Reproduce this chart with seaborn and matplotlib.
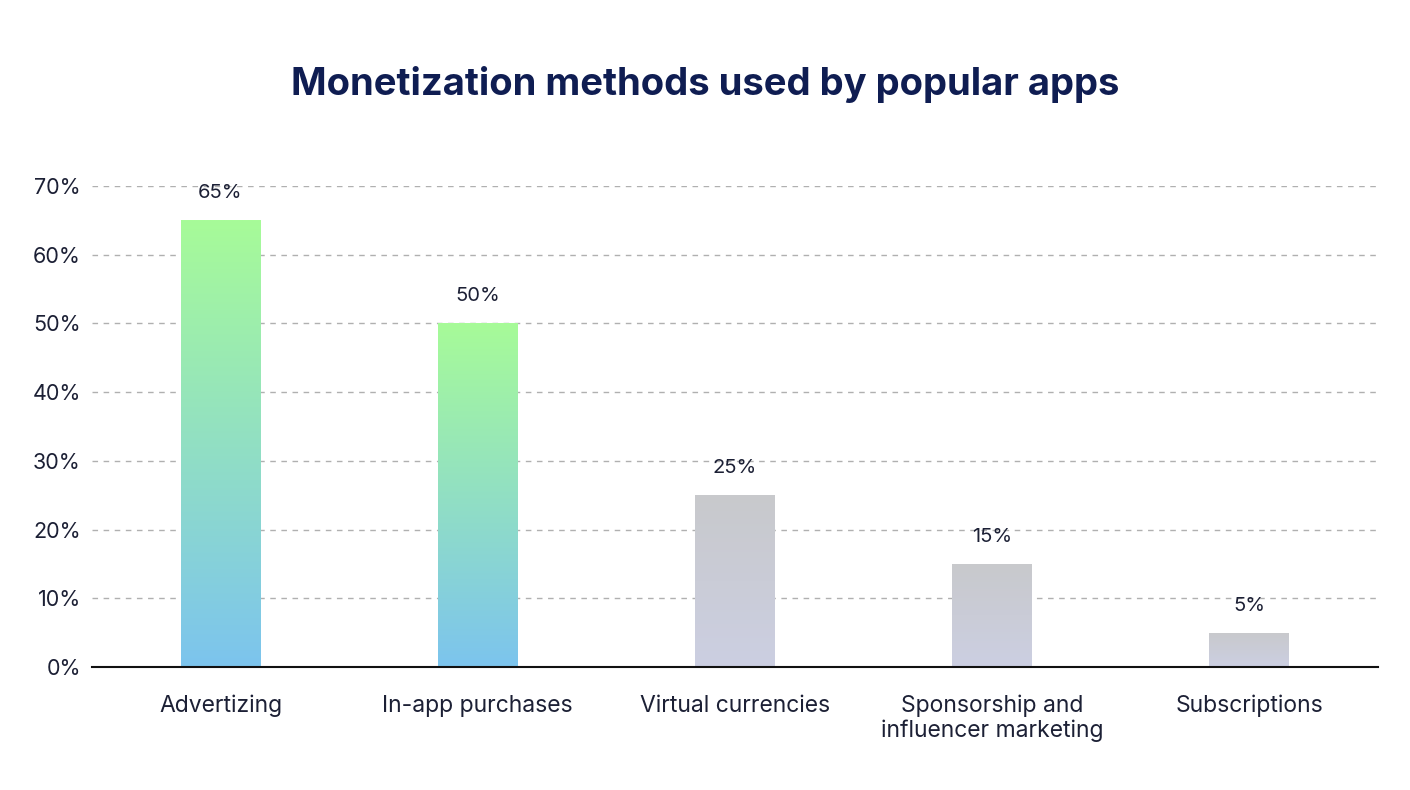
import numpy as np
import pandas as pd
import matplotlib
matplotlib.use("Agg")
import matplotlib.pyplot as plt
import seaborn as sns
from matplotlib.colors import LinearSegmentedColormap

categories = ["Advertizing", "In-app purchases", "Virtual currencies",
              "Sponsorship and\ninfluencer marketing", "Subscriptions"]
values = [65, 50, 25, 15, 5]
highlight = [True, True, False, False, False]
yticks = [0, 10, 20, 30, 40, 50, 60, 70]

sns.set_theme(style="white")
plt.rcParams['font.family'] = ['Inter', 'DejaVu Sans']

df = pd.DataFrame({"cat": categories, "val": values})

fig = plt.figure(figsize=(14.1, 7.9), dpi=100)
ax = fig.add_axes([0.0652, 0.1557, 0.977 - 0.0652, 0.7646 - 0.1557])

sns.barplot(data=df, x="cat", y="val", ax=ax, width=0.31, color="#cccccc",
            edgecolor="none", saturation=1, zorder=2)

green_cmap = LinearSegmentedColormap.from_list("g", ["#7cc4ee", "#a7fb98"])
gray_cmap = LinearSegmentedColormap.from_list("gr", ["#cccfe2", "#c8c9cc"])

grad = np.linspace(0, 1, 256).reshape(-1, 1)
for patch, hl in zip(ax.patches, highlight):
    x0, y0 = patch.get_x(), patch.get_y()
    w, h = patch.get_width(), patch.get_height()
    im = ax.imshow(grad, cmap=green_cmap if hl else gray_cmap, aspect="auto",
                   extent=[x0, x0 + w, y0, y0 + h], origin="lower", zorder=3)
    im.set_clip_path(patch)
    patch.set_facecolor("none")

ax.set_xlim(-0.5, 4.5)
ax.set_ylim(0, 70)
ax.set_yticks(yticks)
ax.set_yticklabels([f"{t}%" for t in yticks])
ax.yaxis.grid(True, linestyle=(0, (4, 4)), color="#b0b0b0", linewidth=1, zorder=0)
ax.set_axisbelow(True)
for s in ["top", "right", "left"]:
    ax.spines[s].set_visible(False)
ax.spines["bottom"].set_color("#111111")
ax.spines["bottom"].set_linewidth(1.5)
ax.spines["bottom"].set_zorder(5)

ax.tick_params(axis="y", length=0, pad=8, labelsize=15.5, labelcolor="#1c2035")
ax.tick_params(axis="x", length=0, pad=20, labelsize=16.5, labelcolor="#1c2035")
for lbl in ax.get_xticklabels():
    lbl.set_linespacing(1.15)
ax.set_xlabel("")
ax.set_ylabel("")

for i, v in enumerate(values):
    ax.annotate(f"{v}%", (i, v), xytext=(0, 13), textcoords="offset points",
                ha="center", va="bottom", fontsize=14.5, color="#1c2035")

fig.text(0.5, 0.893, "Monetization methods used by popular apps", ha="center",
         va="center", fontsize=27.5, fontweight="bold", color="#0f1d52")

fig.savefig("out.png", dpi=100, facecolor="white")
